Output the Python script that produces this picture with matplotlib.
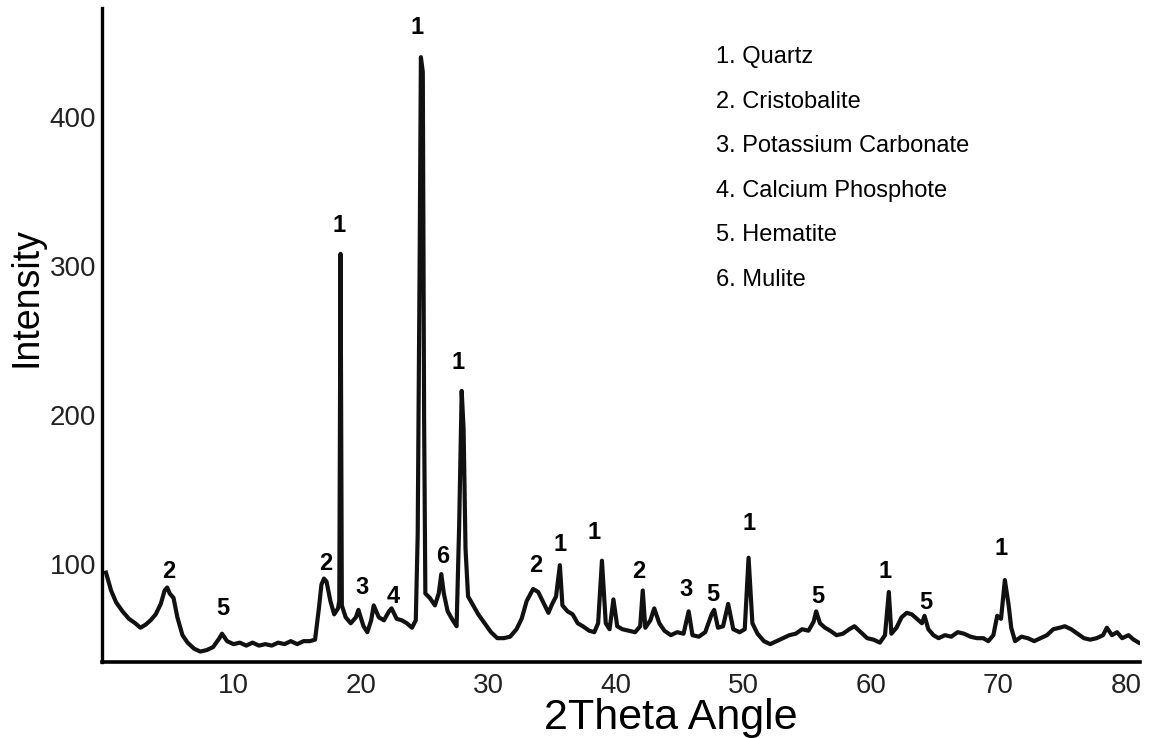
import matplotlib
matplotlib.use("Agg")
import matplotlib.pyplot as plt
import numpy as np

plt.rcParams['font.family'] = ['Liberation Sans', 'DejaVu Sans']

# XRD trace: 2theta (deg) and intensity
two_theta = [0.0, 0.4, 0.8, 1.3, 1.8, 2.3, 2.7, 3.1, 3.5, 3.9, 4.3, 4.6, 4.8, 5.0, 5.3,
             5.6, 6.0, 6.4, 6.9, 7.4, 7.9, 8.4, 8.9, 9.1, 9.5, 10.0, 10.5, 11.0, 11.5,
             12.0, 12.5, 13.0, 13.5, 14.0, 14.5, 15.0, 15.5, 16.0, 16.4, 16.7, 16.9,
             17.1, 17.3, 17.6, 17.9, 18.2, 18.3, 18.4, 18.5, 18.8, 19.2, 19.6, 19.8,
             20.2, 20.5, 20.8, 21.0, 21.4, 21.8, 22.2, 22.4, 22.8, 23.2, 23.6, 24.0,
             24.3, 24.45, 24.6, 24.7, 24.85, 24.95, 25.05, 25.4, 25.8, 26.1, 26.3,
             26.5, 26.8, 27.2, 27.5, 27.7, 27.9, 28.05, 28.2, 28.4, 28.8, 29.2, 29.7,
             30.2, 30.7, 31.2, 31.7, 32.2, 32.6, 33.0, 33.5, 33.9, 34.3, 34.7, 35.0,
             35.3, 35.6, 35.8, 36.2, 36.6, 37.0, 37.4, 37.9, 38.3, 38.6, 38.9, 39.2,
             39.5, 39.8, 40.1, 40.5, 41.0, 41.5, 41.9, 42.1, 42.3, 42.7, 43.0, 43.4,
             43.8, 44.3, 44.8, 45.3, 45.7, 46.0, 46.5, 47.0, 47.5, 47.7, 48.0, 48.4,
             48.8, 49.2, 49.7, 50.1, 50.4, 50.7, 51.1, 51.6, 52.1, 52.6, 53.1, 53.6,
             54.1, 54.6, 55.1, 55.5, 55.7, 56.0, 56.4, 56.8, 57.3, 57.8, 58.3, 58.7,
             59.2, 59.7, 60.2, 60.7, 61.1, 61.4, 61.6, 62.0, 62.4, 62.8, 63.2, 63.6,
             64.0, 64.2, 64.5, 64.9, 65.3, 65.8, 66.3, 66.8, 67.3, 67.8, 68.3, 68.8,
             69.2, 69.6, 69.9, 70.2, 70.5, 70.8, 71.0, 71.3, 71.8, 72.3, 72.8, 73.3,
             73.8, 74.3, 74.8, 75.2, 75.7, 76.2, 76.7, 77.2, 77.7, 78.2, 78.5, 78.9,
             79.3, 79.7, 80.2, 80.6, 81.0]
intensity = [94, 82, 74, 68, 63, 60, 57, 59, 62, 66, 73, 82, 84, 80, 77,
             64, 52, 47, 43, 41, 42, 44, 50, 53, 48, 46, 47, 45, 47,
             45, 46, 45, 47, 46, 48, 46, 48, 48, 49, 70, 86,
             90, 88, 75, 66, 70, 75, 308, 72, 64, 60, 64, 69,
             58, 54, 62, 72, 64, 62, 68, 70, 63, 62, 60, 57,
             62, 120, 300, 440, 430, 200, 80, 77, 72, 80, 93,
             80, 68, 62, 58, 125, 216, 190, 110, 78, 72, 66, 60,
             54, 50, 50, 51, 56, 63, 75, 83, 81, 74, 67, 73,
             78, 99, 72, 68, 66, 60, 58, 55, 54, 60, 102, 60,
             56, 76, 58, 56, 55, 54, 58, 82, 57, 62, 70, 60,
             55, 52, 54, 53, 68, 52, 51, 54, 66, 69, 57, 58,
             73, 56, 54, 56, 104, 60, 53, 48, 46, 48, 50, 52,
             53, 56, 55, 61, 68, 60, 57, 55, 52, 53, 56, 58,
             54, 50, 49, 47, 52, 81, 53, 57, 64, 67, 66, 63,
             60, 65, 56, 52, 50, 52, 51, 54, 53, 51, 50, 50,
             48, 52, 65, 63, 89, 72, 57, 48, 51, 50, 48, 50,
             52, 56, 57, 58, 56, 53, 50, 49, 50, 52, 57, 52,
             54, 50, 52, 49, 47]

# phase labels above peaks
label_x = [4.9, 9.2, 17.2, 18.3, 20.1, 22.5, 24.4, 26.4, 27.6, 33.7, 35.6, 38.3,
           41.8, 45.5, 47.6, 50.4, 55.8, 61.1, 64.3, 70.2]
label_y = [95, 70, 100, 327, 84, 78, 460, 105, 235, 99, 113, 121,
           95, 83, 79, 127, 78, 95, 74, 110]
label_txt = ['2', '5', '2', '1', '3', '4', '1', '6', '1', '2', '1', '1',
             '2', '3', '5', '1', '5', '1', '5', '1']

phases = ['1. Quartz', '2. Cristobalite', '3. Potassium Carbonate',
          '4. Calcium Phosphote', '5. Hematite', '6. Mulite']

x_ticks = [10, 20, 30, 40, 50, 60, 70, 80]
y_ticks = [100, 200, 300, 400]

fig = plt.figure(figsize=(11.5, 7.38), dpi=100)
ax = fig.add_axes([101.5 / 1150, 1 - 662 / 738, (1140 - 101.5) / 1150, (662 - 8) / 738])

ax.plot(two_theta, intensity, color='#111111', lw=3.0, solid_joinstyle='round')

for x, y, t in zip(label_x, label_y, label_txt):
    ax.text(x, y, t, ha='center', va='center', fontsize=17, fontweight='bold')

ax.set_xlim(-0.35, 81.1)
ax.set_ylim(34, 473)
ax.set_xticks(x_ticks)
ax.set_yticks(y_ticks)
ax.tick_params(axis='both', length=0, labelsize=20, labelcolor='#222222')
ax.tick_params(axis='x', pad=8)
ax.tick_params(axis='y', pad=4)

for side in ['top', 'right']:
    ax.spines[side].set_visible(False)
ax.spines['left'].set_linewidth(2.4)
ax.spines['bottom'].set_linewidth(2.6)

for i, p in enumerate(phases):
    fig.text(716 / 1150, 1 - (57 + i * 44.6) / 738, p, ha='left', va='center', fontsize=17)

fig.text(26 / 1150, 1 - 297 / 738, 'Intensity', rotation=90, ha='center', va='center', fontsize=27)
fig.text(671 / 1150, 1 - 718 / 738, '2Theta Angle', ha='center', va='center', fontsize=31)

fig.savefig('out.png', dpi=100)
